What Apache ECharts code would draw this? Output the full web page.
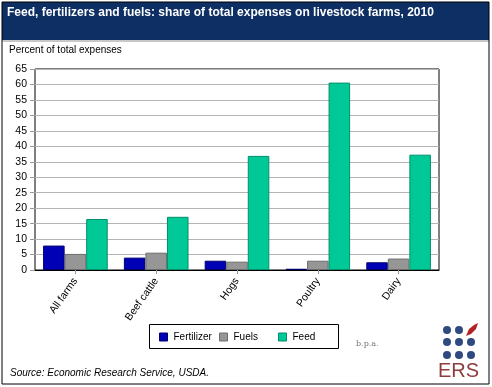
<!DOCTYPE html>
<html><head><meta charset="utf-8">
<script src="https://cdn.jsdelivr.net/npm/echarts@6/dist/echarts.min.js"></script>
<style>html,body{margin:0;padding:0;background:#fff}#c{width:492px;height:387px}</style>
</head><body><div id="c"></div>
<script>
var categories = ['All farms', 'Beef cattle', 'Hogs', 'Poultry', 'Dairy'];
var fertilizer = [7.9, 4.0, 3.0, 0.4, 2.5];
var fuels = [5.2, 5.6, 2.7, 3.0, 3.7];
var feed = [16.5, 17.2, 36.9, 60.6, 37.3];
var seriesNames = ['Fertilizer', 'Fuels', 'Feed'];
var titleText = 'Feed, fertilizers and fuels: share of total expenses on livestock farms, 2010';
var yAxisTitle = 'Percent of total expenses';
var sourceText = 'Source: Economic Research Service, USDA.';

var chart = echarts.init(document.getElementById('c'), null, {renderer: 'canvas'});
var font = 'Liberation Sans, Arial, sans-serif';
var colors = ['#0000b4', '#969696', '#00c896'];
var borders = ['#00006e', '#6e6e6e', '#00906a'];
var dataArr = [fertilizer, fuels, feed];
var legendLeft = [159, 219, 278];

var dots = [];
var dx = [447, 459, 471], dy = [330, 342, 355];
for (var r = 0; r < 3; r++) for (var c = 0; c < 3; c++) {
  if (r === 0 && c === 2) continue;
  dots.push({type: 'circle', shape: {cx: dx[c], cy: dy[r], r: 4}, style: {fill: '#2e4a80'}, silent: true});
}

chart.setOption({
  animation: false,
  textStyle: {fontFamily: font},
  grid: {left: 35, right: 53, top: 69, bottom: 117, show: true, borderColor: '#000', borderWidth: 1},
  legend: seriesNames.map(function (n, i) {
    return {
      data: [n], left: legendLeft[i], top: 332, padding: 0,
      icon: 'rect', itemWidth: 8, itemHeight: 8, itemGap: 0,
      itemStyle: {borderColor: borders[i], borderWidth: 1},
      textStyle: {fontSize: 10, color: '#000', fontFamily: font, padding: [0, 0, 0, 1]}
    };
  }),
  xAxis: {
    type: 'category', data: categories,
    axisLine: {show: true, lineStyle: {color: '#000'}},
    axisTick: {show: true, alignWithLabel: true, length: 4, lineStyle: {color: '#999'}},
    axisLabel: {rotate: 55, fontSize: 10.5, color: '#000', margin: 9, fontFamily: font}
  },
  yAxis: {
    type: 'value', min: 0, max: 65, interval: 5,
    axisLine: {show: false},
    axisTick: {show: true, length: 5, lineStyle: {color: '#999'}},
    axisLabel: {fontSize: 10.5, color: '#000', margin: 8, fontFamily: font},
    splitLine: {lineStyle: {color: '#b4b4b4'}}
  },
  series: dataArr.map(function (d, i) {
    return {
      name: seriesNames[i], type: 'bar', data: d,
      barGap: '0%', barCategoryGap: '20%',
      itemStyle: {color: colors[i], borderColor: borders[i], borderWidth: 1}
    };
  }),
  graphic: [
    {type: 'rect', shape: {x: 2, y: 2, width: 487, height: 382}, style: {fill: 'none', stroke: '#000', lineWidth: 1}, silent: true, z: 100},
    {type: 'rect', shape: {x: 2, y: 2, width: 487, height: 38}, style: {fill: '#0d2f63'}, silent: true},
    {type: 'rect', shape: {x: 2, y: 40, width: 487, height: 2}, style: {fill: '#c8c8c8'}, silent: true},
    {type: 'rect', shape: {x: 149.5, y: 324.5, width: 189, height: 24}, style: {fill: 'none', stroke: '#000', lineWidth: 1}, silent: true},
    {type: 'text', x: 7, y: 7, style: {text: titleText, fill: '#fff', font: 'bold 12px ' + font}, silent: true},
    {type: 'text', x: 9, y: 45, style: {text: yAxisTitle, fill: '#000', font: '10px ' + font}, silent: true},
    {type: 'text', x: 10, y: 368, style: {text: sourceText, fill: '#000', font: 'italic 10px ' + font}, silent: true},
    {type: 'text', x: 356, y: 340, style: {text: 'b.p.a.', fill: '#777', font: '8px DejaVu Serif, serif'}, silent: true},
    {type: 'polygon', shape: {points: [[466, 336], [469, 329], [474, 325], [478, 323], [476, 329], [471, 334]]}, style: {fill: '#b22222'}, silent: true},
    {type: 'text', x: 438, y: 361, style: {text: 'ERS', fill: '#8c3c3c', font: '20px ' + font}, silent: true}
  ].concat(dots)
});
</script></body></html>
